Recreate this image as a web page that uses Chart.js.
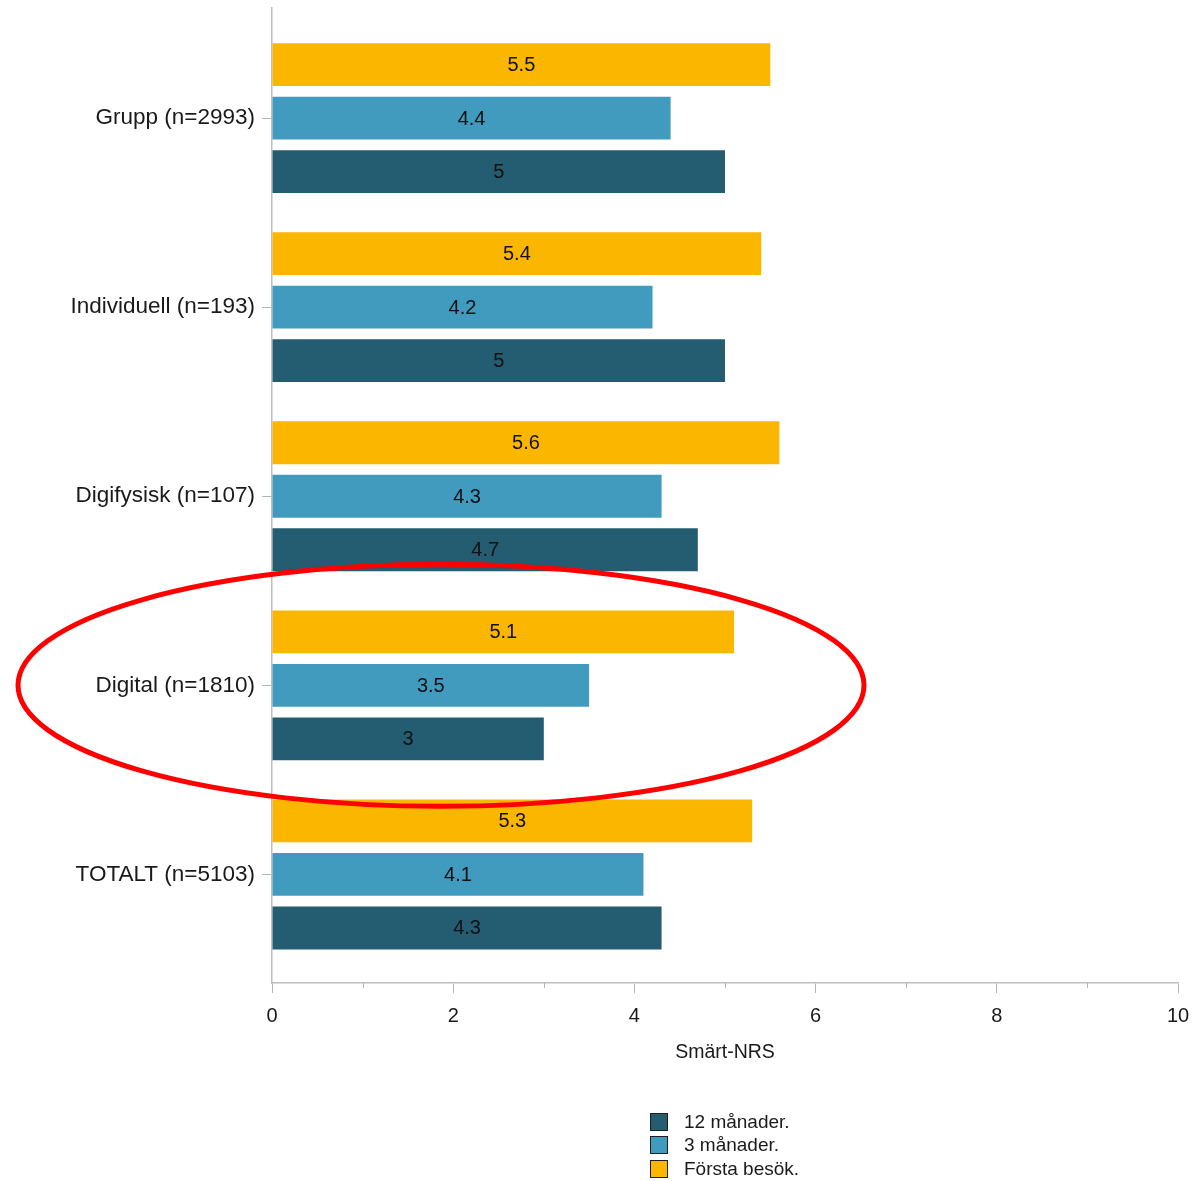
<!DOCTYPE html>
<html>
<head>
<meta charset="utf-8">
<script src="https://cdn.jsdelivr.net/npm/chart.js@4.4.1/dist/chart.umd.min.js"></script>
<style>
  html, body { margin: 0; padding: 0; background: #ffffff; }
  #wrap { position: relative; width: 1197px; height: 1181px; }
  #c { position: absolute; left: 0; top: 0; }
  #legend { position: absolute; left: 650px; top: 1110px; font-family: "Liberation Sans", Arial, sans-serif; font-size: 19px; color: #1a1a1a; }
  .item { display: flex; align-items: center; height: 23.5px; }
  .box { width: 16px; height: 16px; border: 1.5px solid #1e1e1e; margin-right: 16px; }
</style>
</head>
<body>
<div id="wrap">
  <canvas id="c" width="1197" height="1181"></canvas>
  <div id="legend"></div>
</div>
<script>
// ---- data ----
const categories = ['Grupp (n=2993)', 'Individuell (n=193)', 'Digifysisk (n=107)', 'Digital (n=1810)', 'TOTALT (n=5103)'];
const seriesNames = ['Första besök.', '3 månader.', '12 månader.'];
const forstaBesok = [5.5, 5.4, 5.6, 5.1, 5.3];
const tremanader = [4.4, 4.2, 4.3, 3.5, 4.1];
const tolvmanader = [5, 5, 4.7, 3, 4.3];
const xTickValues = [0, 2, 4, 6, 8, 10];
const xMinorTicks = [1, 3, 5, 7, 9];
const highlightCategory = 3;

const colors = ['#FBB600', '#419BBF', '#245C71'];
const FONT = '"Liberation Sans", Arial, sans-serif';

function toPoints(arr) { return arr.map((v, i) => ({ x: v, y: i })); }

const barLabels = {
  id: 'barLabels',
  afterDatasetsDraw(chart) {
    const ctx = chart.ctx;
    ctx.save();
    ctx.font = '20px ' + FONT;
    ctx.fillStyle = '#111';
    ctx.textAlign = 'center';
    ctx.textBaseline = 'middle';
    chart.data.datasets.forEach((ds, di) => {
      const meta = chart.getDatasetMeta(di);
      meta.data.forEach((bar, i) => {
        const v = ds.data[i].x;
        ctx.fillText(String(v), (bar.x + bar.base) / 2, bar.y + 1);
      });
    });
    ctx.restore();
  }
};

const extras = {
  id: 'extras',
  afterDraw(chart) {
    const ctx = chart.ctx;
    const xs = chart.scales.x, ys = chart.scales.y;
    ctx.save();
    // minor ticks
    ctx.strokeStyle = '#b5b5b5';
    ctx.lineWidth = 1;
    xMinorTicks.forEach(v => {
      const px = Math.round(xs.getPixelForValue(v)) + 0.5;
      ctx.beginPath();
      ctx.moveTo(px, chart.chartArea.bottom);
      ctx.lineTo(px, chart.chartArea.bottom + 5);
      ctx.stroke();
    });
    // red highlight ellipse
    const cy = ys.getPixelForValue(highlightCategory);
    ctx.strokeStyle = '#FF0000';
    ctx.lineWidth = 5;
    ctx.beginPath();
    ctx.ellipse(441, cy, 423, 121, 0, 0, Math.PI * 2);
    ctx.stroke();
    ctx.restore();
  }
};

const chart = new Chart(document.getElementById('c'), {
  type: 'bar',
  data: {
    datasets: [
      { label: seriesNames[0], data: toPoints(forstaBesok), backgroundColor: colors[0] },
      { label: seriesNames[1], data: toPoints(tremanader), backgroundColor: colors[1] },
      { label: seriesNames[2], data: toPoints(tolvmanader), backgroundColor: colors[2] }
    ]
  },
  options: {
    indexAxis: 'y',
    responsive: false,
    animation: false,
    categoryPercentage: 0.849,
    barPercentage: 0.80,
    layout: { padding: { left: 0, right: 19, top: 8, bottom: 113 } },
    plugins: { legend: { display: false }, tooltip: { enabled: false } },
    scales: {
      y: {
        type: 'linear',
        reverse: true,
        offset: false,
        min: -0.582,
        max: 4.574,
        afterFit(s) { s.width = 272; s.paddingTop = 0; s.paddingBottom = 0; },
        ticks: {
          stepSize: 1,
          includeBounds: false,
          autoSkip: false,
          padding: 7,
          color: '#1a1a1a',
          font: { family: FONT, size: 22.5 },
          callback: v => (Number.isInteger(v) && categories[v] !== undefined) ? categories[v] : ''
        },
        grid: { offset: false, drawOnChartArea: false, tickLength: 10, color: '#b5b5b5' },
        border: { color: '#bdbdbd', width: 1.5 }
      },
      x: {
        type: 'linear',
        min: xTickValues[0],
        max: xTickValues[xTickValues.length - 1],
        afterFit(s) { s.height = 85; s.paddingLeft = 0; s.paddingRight = 0; },
        afterBuildTicks(s) { s.ticks = xTickValues.map(v => ({ value: v })); },
        ticks: {
          padding: 11,
          color: '#1a1a1a',
          font: { family: FONT, size: 20 }
        },
        grid: { drawOnChartArea: false, tickLength: 10, color: '#b5b5b5' },
        border: { color: '#bdbdbd', width: 1.5 },
        title: {
          display: true,
          text: 'Smärt-NRS',
          color: '#1a1a1a',
          font: { family: FONT, size: 19.5 },
          padding: { top: 4, bottom: 4 }
        }
      }
    }
  },
  plugins: [barLabels, extras]
});

// HTML legend built from the datasets (reversed order, as in the reference)
const legendEl = document.getElementById('legend');
chart.data.datasets.slice().reverse().forEach(ds => {
  const row = document.createElement('div');
  row.className = 'item';
  const box = document.createElement('span');
  box.className = 'box';
  box.style.background = ds.backgroundColor;
  const txt = document.createElement('span');
  txt.textContent = ds.label;
  row.appendChild(box);
  row.appendChild(txt);
  legendEl.appendChild(row);
});
</script>
</body>
</html>
